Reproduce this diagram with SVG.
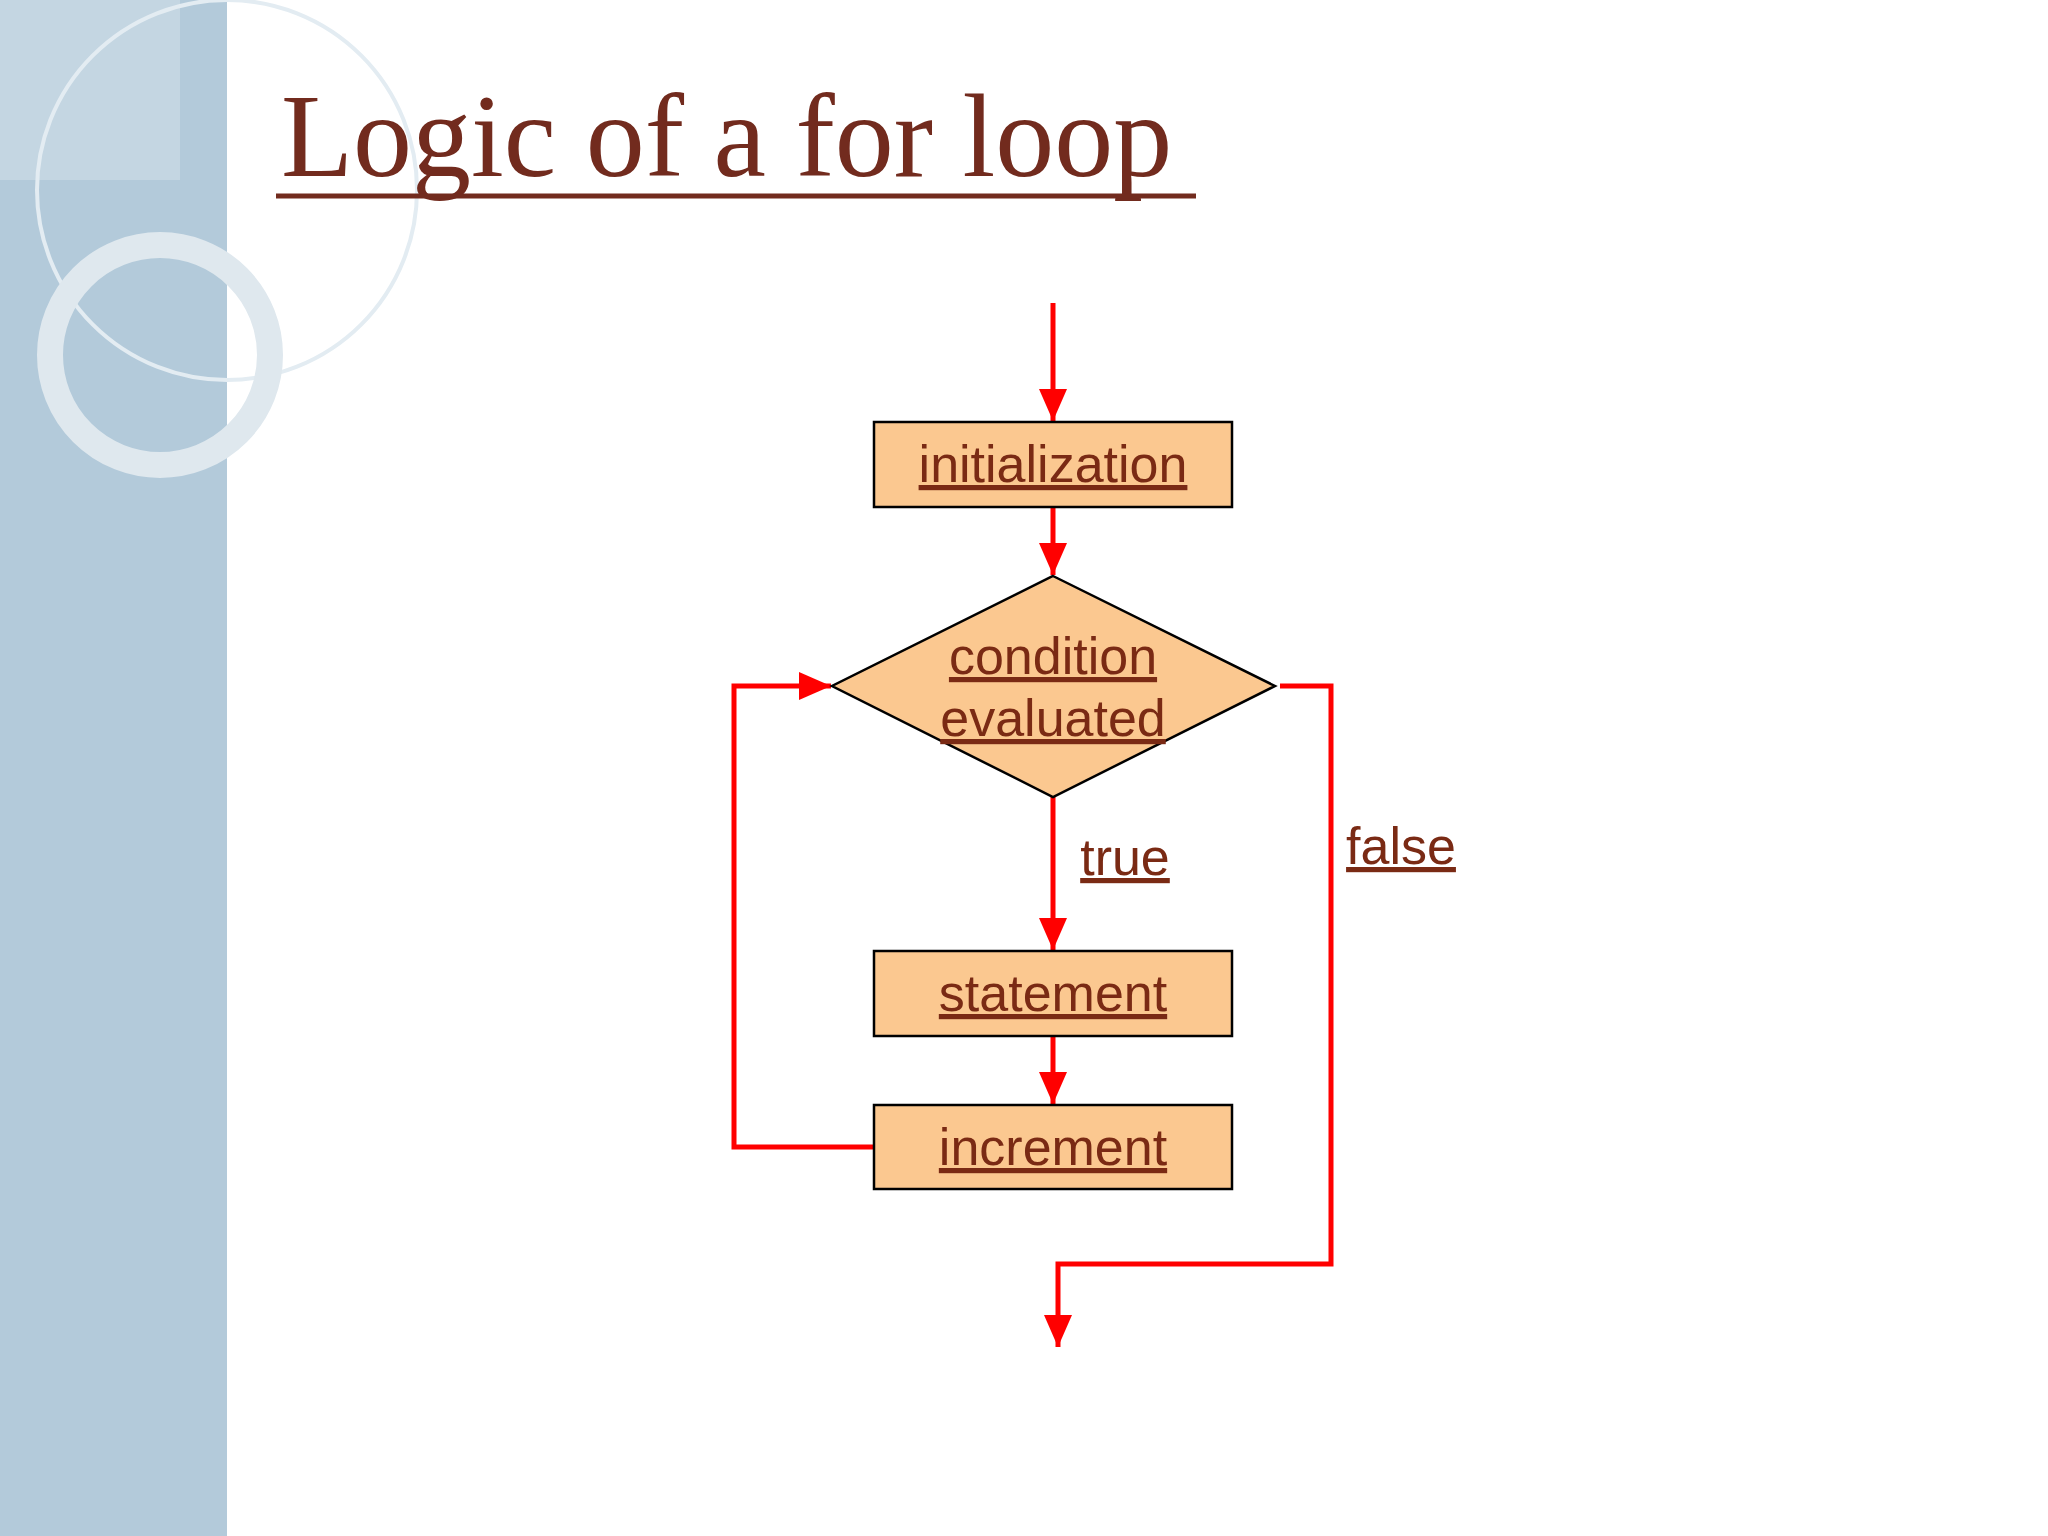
<svg xmlns="http://www.w3.org/2000/svg" width="2048" height="1536" viewBox="0 0 2048 1536">
<defs>
<style>
.box{fill:#fbc890;stroke:#000;stroke-width:2.5}
.lbl{font-family:"Liberation Sans Narrow","Liberation Sans",Arial,sans-serif;font-size:52px;fill:#7a2a14;text-anchor:middle;text-decoration:underline}
.con{fill:none;stroke:#ff0000;stroke-width:5}
</style>
<marker id="ah" markerWidth="10" markerHeight="10" refX="9" refY="5" orient="auto" markerUnits="userSpaceOnUse" viewBox="0 0 10 10"><path d="M0,0 L10,5 L0,10 z" fill="#ff0000"/></marker>
<marker id="a" viewBox="0 0 10 10" refX="10" refY="5" markerWidth="32" markerHeight="28" markerUnits="userSpaceOnUse" orient="auto" preserveAspectRatio="none"><path d="M0,0 L10,5 L0,10 z" fill="#ff0000"/></marker>
</defs>
<rect width="2048" height="1536" fill="#ffffff"/>
<g id="sidebar">
<rect width="227" height="1536" fill="#b3cada"/>
<rect width="180" height="180" fill="#ccdce6" opacity="0.7"/>
<circle cx="227" cy="190" r="190" fill="none" stroke="#e3ecf2" stroke-width="4"/>
<circle cx="160" cy="355" r="110" fill="none" stroke="#dfe8ee" stroke-width="26"/>
</g>
<g id="title">
<text x="281" y="176" font-family="'Liberation Serif',serif" font-size="118" fill="#722b1e">Logic of a for loop</text>
<line x1="276" y1="196" x2="1196" y2="196" stroke="#722b1e" stroke-width="5"/>
</g>
<g id="connectors">
<path class="con" d="M1053,303 V421" marker-end="url(#a)"/>
<path class="con" d="M1053,507 V575" marker-end="url(#a)"/>
<path class="con" d="M1053,797 V950" marker-end="url(#a)"/>
<path class="con" d="M1053,1036 V1104" marker-end="url(#a)"/>
<path class="con" d="M874,1147 H734 V686 H831" marker-end="url(#a)"/>
<path class="con" d="M1280,686 H1331 V1264 H1058 V1347" marker-end="url(#a)"/>
</g>
<g id="initialization"><rect class="box" x="874" y="422" width="358" height="85"/><text class="lbl" x="1053" y="482">initialization</text></g>
<g id="condition"><polygon class="box" points="1053,576 1275,686 1053,797 832,686"/><text class="lbl" x="1053" y="674">condition</text><text class="lbl" x="1053" y="736">evaluated</text></g>
<g id="statement"><rect class="box" x="874" y="951" width="358" height="85"/><text class="lbl" x="1053" y="1011">statement</text></g>
<g id="increment"><rect class="box" x="874" y="1105" width="358" height="84"/><text class="lbl" x="1053" y="1165">increment</text></g>
<g id="labels"><text class="lbl" x="1125" y="875">true</text><text class="lbl" x="1401" y="864">false</text></g>
</svg>
